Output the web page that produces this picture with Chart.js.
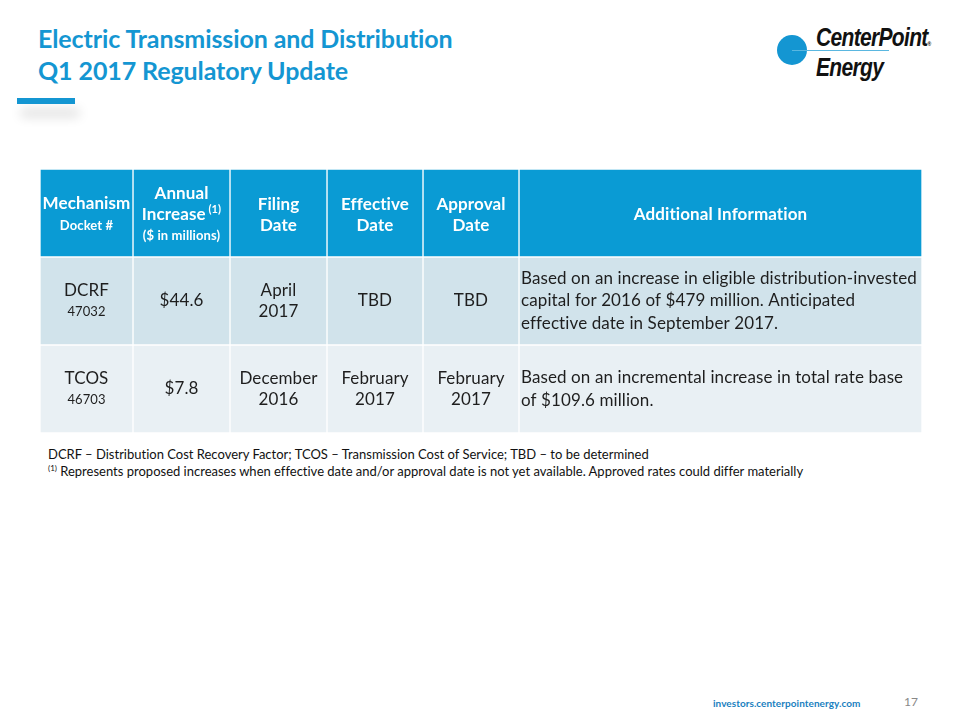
<!DOCTYPE html>
<html>
<head>
<meta charset="utf-8">
<script src="https://cdn.jsdelivr.net/npm/chart.js@4.4.1/dist/chart.umd.min.js"></script>
<style>
  html, body { margin: 0; padding: 0; background: #fff; }
  body { width: 960px; height: 720px; position: relative; overflow: hidden; font-family: Lato, "Open Sans", sans-serif; font-variant-ligatures: none; }
  .title { position: absolute; left: 38px; top: 22px; color: #1496d2; font-weight: 700; font-size: 25px; line-height: 32px; letter-spacing: -0.1px; }
  .accent { position: absolute; left: 17px; top: 98px; width: 58px; height: 6px; background: #1496d2; box-shadow: 4px 12px 12px rgba(0,0,0,0.18); }
  .logo { position: absolute; left: 770px; top: 22px; width: 170px; height: 60px; }
  .logo .dot { position: absolute; left: 7px; top: 13px; width: 30px; height: 30px; border-radius: 50%; background: #1496d2; }
  .logo .rule { position: absolute; left: 22px; top: 28px; width: 97px; height: 1px; background: #5ab7e0; }
  .logo .w { position: absolute; left: 46px; font-style: italic; font-weight: 700; font-size: 25px; letter-spacing: -0.8px; color: #111; font-family: "Liberation Sans", Arial, sans-serif; transform: scaleX(0.84); transform-origin: left top; white-space: nowrap; }
  .logo .w1 { top: 1px; }
  .logo .w2 { top: 31px; }
  .logo sup { font-size: 6px; font-style: normal; letter-spacing: 0; vertical-align: 0; }
  #wrap { position: absolute; left: 40px; top: 169px; width: 882px; height: 264px; }
  .notes { position: absolute; left: 48px; top: 446px; font-size: 13px; line-height: 17px; color: #111; }
  .notes sup { font-size: 8px; vertical-align: 5px; line-height: 0; }
  .site { position: absolute; left: 713px; top: 697px; font-size: 10px; font-weight: 700; color: #1a7fc0; letter-spacing: 0.05px; }
  .page { position: absolute; left: 904px; top: 694px; font-size: 12px; color: #888; }
</style>
</head>
<body>
<div class="title">Electric Transmission and Distribution<br>Q1 2017 Regulatory Update</div>
<div class="accent"></div>
<div class="logo">
  <div class="dot"></div><div class="rule"></div>
  <div class="w w1">CenterPoint<sup>®</sup></div>
  <div class="w w2">Energy</div>
</div>
<div id="wrap"><canvas id="tbl"></canvas></div>
<div class="notes">DCRF – Distribution Cost Recovery Factor; TCOS – Transmission Cost of Service; TBD – to be determined<br><sup>(1)</sup> Represents proposed increases when effective date and/or approval date is not yet available. Approved rates could differ materially</div>
<div class="site">investors.centerpointenergy.com</div>
<div class="page">17</div>

<script>
// table content
const headerMain = [['Mechanism'], ['Annual', 'Increase'], ['Filing', 'Date'], ['Effective', 'Date'], ['Approval', 'Date'], ['Additional Information']];
const headerSub = ['Docket #', '($ in millions)', '', '', '', ''];
const headerNote = ['', '(1)', '', '', '', ''];

const mechanisms = ['DCRF', 'TCOS'];
const dockets = ['47032', '46703'];
const annualIncrease = [44.6, 7.8];
const filingDate = ['April 2017', 'December 2016'];
const effectiveDate = ['TBD', 'February 2017'];
const approvalDate = ['TBD', 'February 2017'];
const additionalInfo = [
  ['Based on an increase in eligible distribution-invested', 'capital for 2016 of $479 million. Anticipated', 'effective date in September 2017.'],
  ['Based on an incremental increase in total rate base', 'of $109.6 million.']
];

// layout
const colWidths = [93, 97, 97, 96, 96, 403];
const rowKeys = ['header', 'DCRF', 'TCOS'];
const rowColors = ['#0a9bd4', '#d1e3eb', '#e9f0f4'];

const edges = [0];
colWidths.forEach(w => edges.push(edges[edges.length - 1] + w));

function cellLines(r, c) {
  // r: 0 = header, 1.. = data rows
  if (r === 0) {
    const out = headerMain[c].map((t, i) => ({ t, bold: true, size: 17, h: 21, note: i === headerMain[c].length - 1 ? headerNote[c] : '' }));
    if (headerSub[c]) out.push({ t: headerSub[c], bold: true, size: 13, h: 22 });
    return out;
  }
  const i = r - 1;
  const split = s => s.split(' ').map(t => ({ t, size: 17, h: 21 }));
  switch (c) {
    case 0: return [{ t: mechanisms[i], size: 17, h: 21 }, { t: dockets[i], size: 13, h: 21 }];
    case 1: return [{ t: '$' + annualIncrease[i].toFixed(1), size: 17, h: 21 }];
    case 2: return split(filingDate[i]);
    case 3: return split(effectiveDate[i]);
    case 4: return split(approvalDate[i]);
    default: return additionalInfo[i].map(t => ({ t, size: 17, h: 22.5 }));
  }
}

const fontOf = (bold, size) => (bold ? '700 ' : '400 ') + size + 'px Lato, "Open Sans", sans-serif';

const cellText = {
  id: 'cellText',
  afterDatasetsDraw(chart) {
    const { ctx, scales: { x, y } } = chart;
    ctx.save();
    ctx.textBaseline = 'middle';
    ctx.textAlign = 'left';
    ctx.letterSpacing = '0.1px'; // also stops the ti / fi ligatures
    rowKeys.forEach((key, r) => {
      const yc = y.getPixelForValue(r) + (r === 0 ? 2 : 0);
      colWidths.forEach((w, c) => {
        const x0 = x.getPixelForValue(edges[c]);
        const x1 = x.getPixelForValue(edges[c + 1]);
        const lines = cellLines(r, c);
        const total = lines.reduce((s, l) => s + l.h, 0);
        let top = yc - total / 2;
        ctx.fillStyle = r === 0 ? '#ffffff' : '#1e1e1e';
        lines.forEach(l => {
          const ly = top + l.h / 2;
          ctx.font = fontOf(l.bold, l.size);
          if (c === 5 && r > 0) {
            ctx.fillText(l.t, x0 + 2, ly);
          } else {
            const tw = ctx.measureText(l.t).width;
            let nw = 0;
            if (l.note) {
              ctx.font = fontOf(l.bold, 11);
              nw = ctx.measureText(' ' + l.note).width;
            }
            const sx = (x0 + x1) / 2 - (tw + nw) / 2;
            ctx.font = fontOf(l.bold, l.size);
            ctx.fillText(l.t, sx, ly);
            if (l.note) {
              ctx.font = fontOf(l.bold, 11);
              ctx.fillText(' ' + l.note, sx + tw, ly - 5);
            }
          }
          top += l.h;
        });
      });
    });
    ctx.restore();
  }
};

const datasets = colWidths.map((w, c) => ({
  label: headerMain[c].join(' '),
  data: rowKeys.map((key, r) => ({ y: r, x: [edges[c], edges[c + 1]] })),
  backgroundColor: rowColors,
  borderColor: '#ffffff',
  borderWidth: 1,
  borderSkipped: false,
  grouped: false,
  barPercentage: 1,
  categoryPercentage: 1
}));

new Chart(document.getElementById('tbl'), {
  type: 'bar',
  data: { labels: rowKeys.map((k, r) => r), datasets },
  options: {
    indexAxis: 'y',
    responsive: true,
    maintainAspectRatio: false,
    animation: false,
    layout: { padding: 0 },
    plugins: { legend: { display: false }, tooltip: { enabled: false } },
    scales: {
      x: { type: 'linear', min: 0, max: edges[edges.length - 1], display: false },
      y: { type: 'category', display: false, offset: true }
    }
  },
  plugins: [cellText]
});
</script>
</body>
</html>
